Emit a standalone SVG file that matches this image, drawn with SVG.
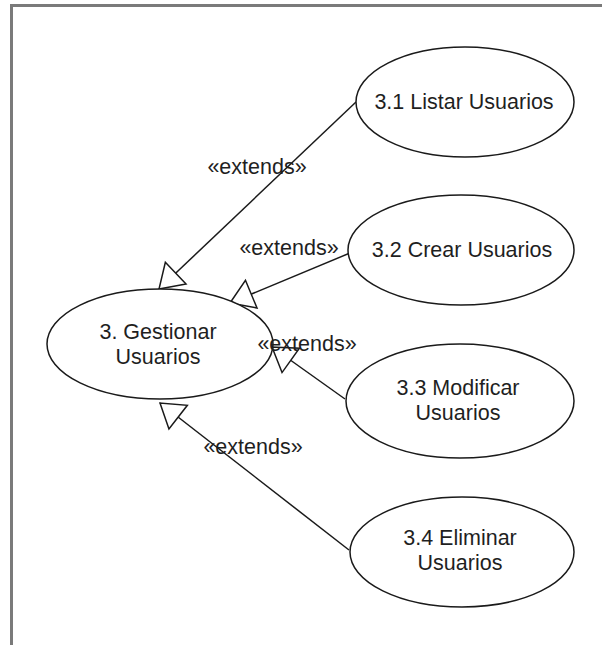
<svg xmlns="http://www.w3.org/2000/svg" width="602" height="645" viewBox="0 0 602 645">
  <style>
    .uc { fill: #ffffff; stroke: #1a1a1a; stroke-width: 1.5; }
    .lbl { font-family: "Liberation Sans", Arial, sans-serif; font-size: 21.5px; fill: #1f1f1f; text-anchor: middle; }
    .ext { fill: none; stroke: #1a1a1a; stroke-width: 1.5; marker-end: url(#openTri); }
  </style>
  <defs>
    <marker id="openTri" markerUnits="userSpaceOnUse" markerWidth="30" markerHeight="34" viewBox="-25 -17 27 34" refX="0" refY="0" orient="auto">
      <path d="M0,0 L-23,-15 L-23,15 Z" fill="#ffffff" stroke="#1a1a1a" stroke-width="1.5" stroke-linejoin="miter"/>
    </marker>
  </defs>

  <rect width="602" height="645" fill="#ffffff"/>

  <!-- frame -->
  <path d="M11.5,645 V5.5 H602" fill="none" stroke="#7a7a7a" stroke-width="3"/>

  <!-- extend relations -->
  <g id="connectors">
    <line class="ext" x1="356" y1="102" x2="159" y2="289"/>
    <line class="ext" x1="350" y1="253" x2="230" y2="303"/>
    <line class="ext" x1="345" y1="399" x2="272" y2="347"/>
    <line class="ext" x1="349" y1="550" x2="160" y2="403"/>
  </g>

  <g id="uc-gestionar">
    <ellipse class="uc" cx="160" cy="344" rx="113" ry="55"/>
    <text class="lbl" x="158" y="339">3. Gestionar</text>
    <text class="lbl" x="158" y="364">Usuarios</text>
  </g>

  <g id="uc-listar">
    <ellipse class="uc" cx="465" cy="102" rx="109" ry="55"/>
    <text class="lbl" x="464" y="109">3.1 Listar Usuarios</text>
  </g>

  <g id="uc-crear">
    <ellipse class="uc" cx="461" cy="250" rx="113" ry="55"/>
    <text class="lbl" x="462" y="257">3.2 Crear Usuarios</text>
  </g>

  <g id="uc-modificar">
    <ellipse class="uc" cx="460" cy="401" rx="114" ry="57"/>
    <text class="lbl" x="458" y="395">3.3 Modificar</text>
    <text class="lbl" x="458" y="420">Usuarios</text>
  </g>

  <g id="uc-eliminar">
    <ellipse class="uc" cx="462" cy="552" rx="112" ry="55"/>
    <text class="lbl" x="460" y="545">3.4 Eliminar</text>
    <text class="lbl" x="460" y="570">Usuarios</text>
  </g>

  <!-- stereotype labels, drawn on top -->
  <g id="connector-labels">
    <text class="lbl" x="257" y="174">«extends»</text>
    <text class="lbl" x="289" y="255">«extends»</text>
    <text class="lbl" x="307" y="351">«extends»</text>
    <text class="lbl" x="253" y="454">«extends»</text>
  </g>
</svg>
